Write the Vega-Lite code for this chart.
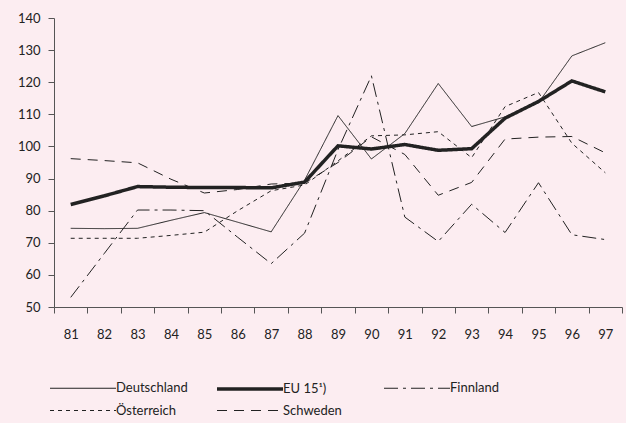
{
  "$schema": "https://vega.github.io/schema/vega-lite/v6.json",
  "width": 568,
  "height": 289,
  "autosize": {"type": "none"},
  "padding": {"left": 54, "top": 18, "right": 4, "bottom": 116},
  "background": "#fcedf1",
  "config": {
    "view": {"stroke": null},
    "font": "Lato",
    "axis": {"labelFont": "Lato", "labelFontSize": 13, "labelColor": "#222", "domainColor": "#555", "tickColor": "#555", "grid": false, "title": null}
  },
  "data": {"values": [
    {"year": 81, "series": "Deutschland", "value": 74.5},
    {"year": 82, "series": "Deutschland", "value": 74.4},
    {"year": 83, "series": "Deutschland", "value": 74.5},
    {"year": 84, "series": "Deutschland", "value": 77.0},
    {"year": 85, "series": "Deutschland", "value": 79.4},
    {"year": 86, "series": "Deutschland", "value": 76.4},
    {"year": 87, "series": "Deutschland", "value": 73.4},
    {"year": 88, "series": "Deutschland", "value": 89.5},
    {"year": 89, "series": "Deutschland", "value": 109.6},
    {"year": 90, "series": "Deutschland", "value": 96.1},
    {"year": 91, "series": "Deutschland", "value": 104.0},
    {"year": 92, "series": "Deutschland", "value": 119.6},
    {"year": 93, "series": "Deutschland", "value": 106.2},
    {"year": 94, "series": "Deutschland", "value": 109.2},
    {"year": 95, "series": "Deutschland", "value": 113.6},
    {"year": 96, "series": "Deutschland", "value": 128.2},
    {"year": 97, "series": "Deutschland", "value": 132.3},
    {"year": 81, "series": "EU 15¹)", "value": 81.9},
    {"year": 82, "series": "EU 15¹)", "value": 84.6},
    {"year": 83, "series": "EU 15¹)", "value": 87.5},
    {"year": 84, "series": "EU 15¹)", "value": 87.3},
    {"year": 85, "series": "EU 15¹)", "value": 87.2},
    {"year": 86, "series": "EU 15¹)", "value": 87.2},
    {"year": 87, "series": "EU 15¹)", "value": 87.1},
    {"year": 88, "series": "EU 15¹)", "value": 88.9},
    {"year": 89, "series": "EU 15¹)", "value": 100.2},
    {"year": 90, "series": "EU 15¹)", "value": 99.2},
    {"year": 91, "series": "EU 15¹)", "value": 100.6},
    {"year": 92, "series": "EU 15¹)", "value": 98.8},
    {"year": 93, "series": "EU 15¹)", "value": 99.3},
    {"year": 94, "series": "EU 15¹)", "value": 108.8},
    {"year": 95, "series": "EU 15¹)", "value": 114.0},
    {"year": 96, "series": "EU 15¹)", "value": 120.4},
    {"year": 97, "series": "EU 15¹)", "value": 117.0},
    {"year": 81, "series": "Finnland", "value": 53.0},
    {"year": 82, "series": "Finnland", "value": 66.6},
    {"year": 83, "series": "Finnland", "value": 80.2},
    {"year": 84, "series": "Finnland", "value": 80.2},
    {"year": 85, "series": "Finnland", "value": 80.0},
    {"year": 86, "series": "Finnland", "value": 71.7},
    {"year": 87, "series": "Finnland", "value": 63.5},
    {"year": 88, "series": "Finnland", "value": 73.0},
    {"year": 89, "series": "Finnland", "value": 99.0},
    {"year": 90, "series": "Finnland", "value": 122.0},
    {"year": 91, "series": "Finnland", "value": 78.0},
    {"year": 92, "series": "Finnland", "value": 70.4},
    {"year": 93, "series": "Finnland", "value": 82.0},
    {"year": 94, "series": "Finnland", "value": 73.2},
    {"year": 95, "series": "Finnland", "value": 88.7},
    {"year": 96, "series": "Finnland", "value": 72.5},
    {"year": 97, "series": "Finnland", "value": 71.0},
    {"year": 81, "series": "Österreich", "value": 71.4},
    {"year": 82, "series": "Österreich", "value": 71.4},
    {"year": 83, "series": "Österreich", "value": 71.4},
    {"year": 84, "series": "Österreich", "value": 72.3},
    {"year": 85, "series": "Österreich", "value": 73.3},
    {"year": 86, "series": "Österreich", "value": 80.0},
    {"year": 87, "series": "Österreich", "value": 86.2},
    {"year": 88, "series": "Österreich", "value": 88.0},
    {"year": 89, "series": "Österreich", "value": 95.5},
    {"year": 90, "series": "Österreich", "value": 103.3},
    {"year": 91, "series": "Österreich", "value": 103.6},
    {"year": 92, "series": "Österreich", "value": 104.6},
    {"year": 93, "series": "Österreich", "value": 96.5},
    {"year": 94, "series": "Österreich", "value": 112.4},
    {"year": 95, "series": "Österreich", "value": 116.8},
    {"year": 96, "series": "Österreich", "value": 101.0},
    {"year": 97, "series": "Österreich", "value": 91.8},
    {"year": 81, "series": "Schweden", "value": 96.2},
    {"year": 82, "series": "Schweden", "value": 95.6},
    {"year": 83, "series": "Schweden", "value": 94.9},
    {"year": 84, "series": "Schweden", "value": 89.8},
    {"year": 85, "series": "Schweden", "value": 85.5},
    {"year": 86, "series": "Schweden", "value": 86.6},
    {"year": 87, "series": "Schweden", "value": 88.3},
    {"year": 88, "series": "Schweden", "value": 88.6},
    {"year": 89, "series": "Schweden", "value": 95.0},
    {"year": 90, "series": "Schweden", "value": 103.0},
    {"year": 91, "series": "Schweden", "value": 97.5},
    {"year": 92, "series": "Schweden", "value": 84.8},
    {"year": 93, "series": "Schweden", "value": 88.8},
    {"year": 94, "series": "Schweden", "value": 102.3},
    {"year": 95, "series": "Schweden", "value": 102.9},
    {"year": 96, "series": "Schweden", "value": 103.1},
    {"year": 97, "series": "Schweden", "value": 98.0}
  ]},
  "mark": {"type": "line", "color": "#222", "strokeJoin": "miter"},
  "encoding": {
    "x": {
      "field": "year", "type": "ordinal",
      "scale": {"type": "band", "paddingInner": 0, "paddingOuter": 0},
      "axis": {"labelAngle": 0, "tickBand": "extent", "tickSize": 6, "labelPadding": 15}
    },
    "y": {
      "field": "value", "type": "quantitative",
      "scale": {"domain": [50, 140], "nice": false, "zero": false},
      "axis": {"values": [50, 60, 70, 80, 90, 100, 110, 120, 130, 140], "tickSize": 6, "labelPadding": 8}
    },
    "strokeDash": {
      "field": "series", "type": "nominal",
      "scale": {"domain": ["Deutschland", "EU 15¹)", "Finnland", "Österreich", "Schweden"], "range": [[1, 0], [1, 0], [14, 5, 3, 5], [4, 4], [10, 7]]},
      "legend": {"title": null, "orient": "none", "legendX": -6, "legendY": 358, "direction": "horizontal", "columns": 3, "gridAlign": "all", "columnPadding": 22, "rowPadding": 3, "symbolType": "M-3,0H3", "symbolSize": 484, "symbolOffset": 22, "symbolStrokeColor": "#222", "labelFontSize": 13, "labelOffset": 20, "labelColor": "#222", "labelFont": "Lato"}
    },
    "strokeWidth": {
      "field": "series", "type": "nominal",
      "scale": {"type": "ordinal", "domain": ["Deutschland", "EU 15¹)", "Finnland", "Österreich", "Schweden"], "range": [1, 3.5, 1, 1, 1]},
      "legend": {"title": null, "orient": "none", "legendX": -6, "legendY": 358, "direction": "horizontal", "columns": 3, "gridAlign": "all", "columnPadding": 22, "rowPadding": 3, "symbolType": "M-3,0H3", "symbolSize": 484, "symbolOffset": 22, "symbolStrokeColor": "#222", "labelFontSize": 13, "labelOffset": 20, "labelColor": "#222", "labelFont": "Lato"}
    }
  }
}
